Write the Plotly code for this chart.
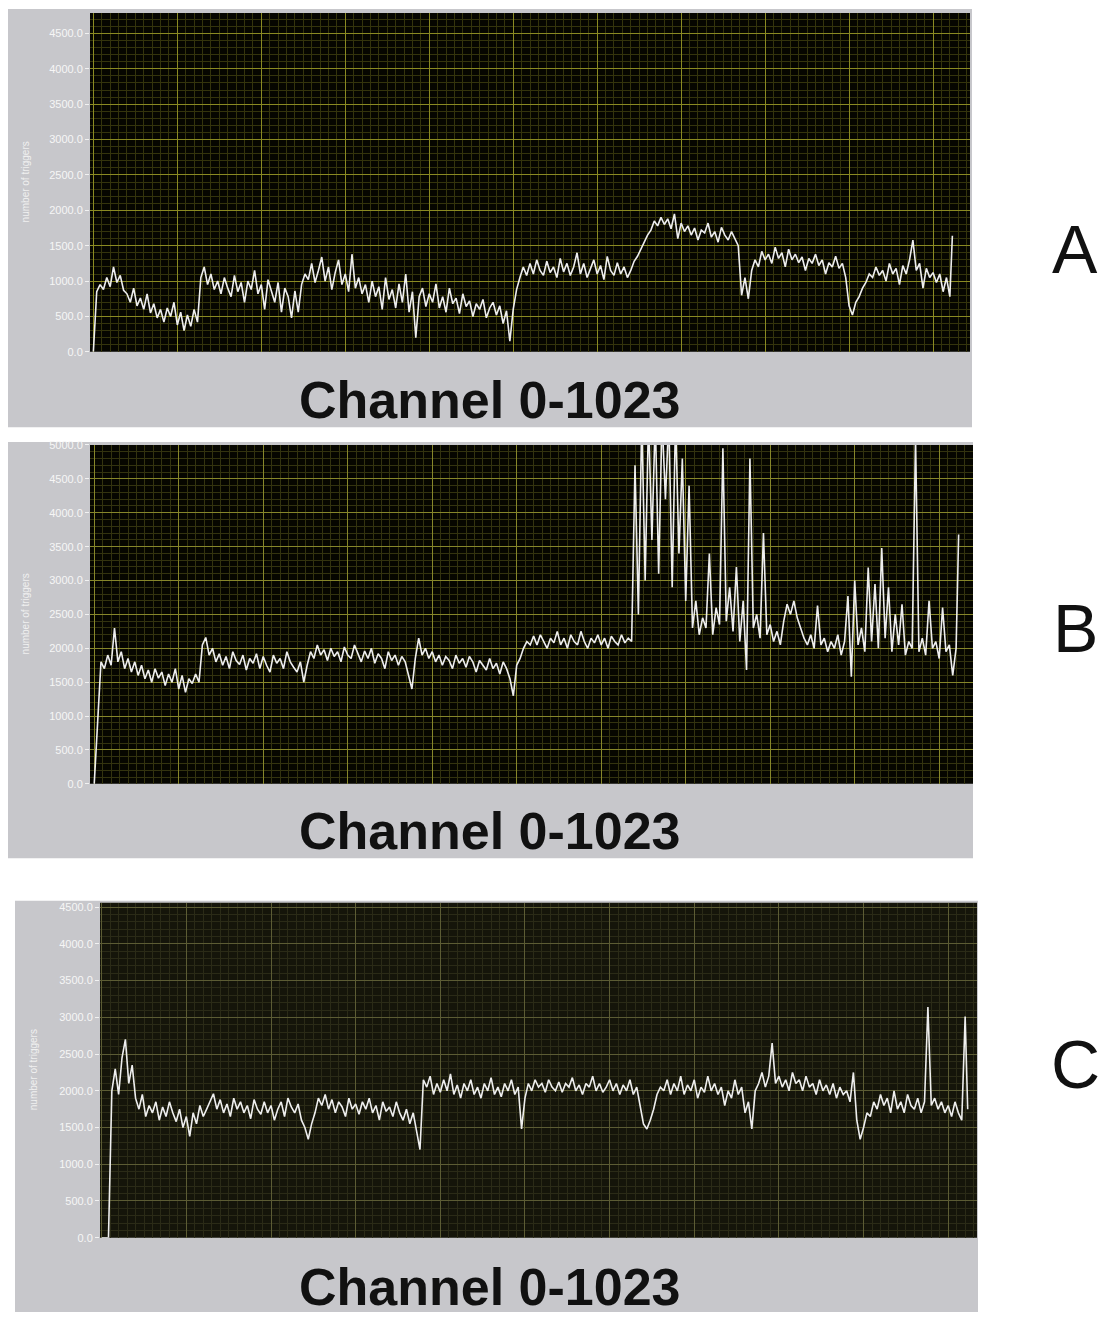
import plotly.graph_objects as go

W, H = 1119, 1321

# ---------------- data ----------------
channels = list(range(0, 1024, 4)) + [1023]

counts_a = [
    0, 850, 950, 880, 1050, 920, 1200, 980, 1080, 870, 820, 700, 900, 650, 760, 600,
    820, 550, 680, 480, 600, 420, 620, 500, 700, 380, 560, 300, 520, 360, 600, 420,
    1050, 1200, 950, 1100, 880, 1000, 820, 1050, 900, 780, 1080, 850, 980, 700, 1000, 880,
    1150, 820, 950, 600, 1020, 870, 700, 980, 560, 900, 780, 480, 860, 560, 950, 1100,
    1020, 1250, 980, 1150, 1340, 1000, 1200, 880, 1120, 1300, 950, 1100, 850, 1380, 900, 1050,
    820, 950, 700, 1000, 780, 920, 600, 1050, 740, 880, 620, 960, 700, 1100, 560, 850,
    200, 780, 900, 640, 820, 700, 960, 620, 780, 560, 900, 680, 760, 540, 820, 640,
    720, 500, 680, 600, 740, 480, 620, 700, 520, 650, 400, 580, 150, 600, 880, 1050,
    1200, 1080, 1250, 1100, 1300, 1150, 1080, 1280, 1120, 1200, 1050, 1320, 1130, 1250, 1080, 1200,
    1400, 1100, 1250, 1050, 1180, 1300, 1100, 1220, 1020, 1350, 1150, 1080, 1260, 1100, 1200, 1050,
    1150, 1280, 1350, 1450, 1550, 1650, 1720, 1850, 1780, 1900, 1800, 1880, 1740, 1950, 1600, 1820,
    1700, 1780, 1650, 1750, 1580, 1720, 1680, 1820, 1620, 1700, 1550, 1760, 1650, 1580, 1700, 1600,
    1500, 800, 1050, 750, 1150, 1300, 1200, 1420, 1300, 1380, 1250, 1480, 1320, 1400, 1200, 1450,
    1300, 1380, 1260, 1340, 1150, 1320, 1250, 1380, 1220, 1300, 1100, 1260, 1200, 1350, 1180, 1250,
    1050, 650, 520, 700, 780, 900, 980, 1100, 1050, 1200, 1080, 1150, 1000, 1250, 1100, 1180,
    950, 1220, 1100, 1300, 1580, 1150, 1250, 900, 1180, 1050, 1120, 980, 1100, 850, 1050, 780,
    1640,
]

counts_b = [
    0, 850, 1800, 1700, 1900, 1750, 2300, 1800, 1950, 1700, 1850, 1650, 1800, 1600, 1750, 1550,
    1680, 1500, 1700, 1560, 1650, 1450, 1620, 1500, 1700, 1400, 1600, 1350, 1550, 1480, 1620, 1500,
    2050, 2160, 1900, 2000, 1800, 1920, 1750, 1880, 1700, 1950, 1820, 1760, 1900, 1680, 1850, 1780,
    1920, 1700, 1880, 1750, 1650, 1900, 1780, 1850, 1700, 1950, 1800, 1720, 1650, 1800, 1500, 1750,
    1950, 1850, 2050, 1900, 1980, 1820, 2000, 1880, 1950, 1800, 2020, 1900, 1850, 2050, 1920, 1800,
    1960, 1850, 2000, 1780, 1920, 1850, 1700, 1950, 1820, 1900, 1750, 1880, 1800, 1600, 1400, 1850,
    2150, 1900, 2000, 1850, 1950, 1800, 1900, 1750, 1880, 1820, 1700, 1900, 1780, 1850, 1720, 1880,
    1800, 1650, 1820, 1750, 1680, 1850, 1700, 1780, 1620, 1800, 1700, 1550, 1300, 1750, 1850, 2000,
    2100, 2050, 2180, 2050, 2200, 2100, 2000, 2150, 2080, 2250, 2050, 2150, 2000, 2200, 2100, 2050,
    2250, 2100, 2000, 2150, 2080, 2200, 2050, 2150, 2000, 2180, 2100, 2050, 2200, 2080, 2150, 2100,
    4700, 2500, 5400, 3000, 5400, 3600, 5400, 3100, 5400, 4200, 5400, 2900, 5400, 3400, 4800, 2700,
    4400, 2300, 2700, 2200, 2450, 2300, 3400, 2200, 2600, 2350, 4950, 2400, 2900, 2250, 3200, 2100,
    2700, 1680, 4800, 2300, 2500, 2150, 3700, 2200, 2350, 2100, 2250, 2050, 2400, 2650, 2500, 2700,
    2450, 2300, 2150, 2050, 2200, 2000, 2630, 2050, 2150, 1950, 2100, 2000, 2200, 1900, 2100, 2770,
    1580, 3000, 2050, 2300, 1950, 3190, 2100, 2950, 2000, 3480, 2150, 2900, 1950, 2500, 2050, 2650,
    1900, 2100, 2000, 5100, 1950, 2150, 1900, 2700, 2000, 2100, 1850, 2600, 1950, 2050, 1600, 2000,
    3680,
]

counts_c = [
    0, 0, 0, 2000, 2300, 1950, 2450, 2700, 2100, 2350, 1900, 1750, 1950, 1650, 1800, 1700,
    1850, 1600, 1780, 1650, 1850, 1700, 1580, 1750, 1500, 1650, 1380, 1700, 1550, 1800, 1650, 1750,
    1850, 1960, 1750, 1880, 1700, 1820, 1650, 1900, 1750, 1850, 1700, 1800, 1620, 1880, 1750, 1680,
    1850, 1700, 1800, 1600, 1750, 1850, 1650, 1900, 1780, 1700, 1820, 1600, 1500, 1340, 1550, 1700,
    1900, 1800, 1950, 1750, 1880, 1700, 1850, 1780, 1650, 1900, 1750, 1820, 1680, 1850, 1750, 1900,
    1700, 1800, 1600, 1850, 1720, 1780, 1650, 1850, 1700, 1600, 1750, 1550, 1700, 1450, 1200, 2150,
    2050, 2200, 1950, 2100, 1980, 2150, 2000, 2230, 1950, 2080, 1900, 2100, 2000, 2150, 1950, 2050,
    1900, 2100, 2000, 2180, 1950, 2050, 1920, 2100, 2000, 2150, 1950, 2050, 1480, 1900, 2100, 2000,
    2150, 2050, 2100, 1980, 2150, 2050, 2000, 2120, 1980, 2100, 2050, 2180, 2000, 2080, 1950, 2100,
    2050, 2200, 2000, 2100, 1980, 2050, 2150, 2000, 2100, 1950, 2080, 2000, 2150, 1950, 2050, 1800,
    1550, 1480, 1600, 1750, 1950, 2050, 2000, 2150, 1950, 2100, 2000, 2200, 1950, 2080, 2000, 2150,
    1900, 2050, 1980, 2200, 2000, 2100, 1950, 2050, 1800, 2000, 1900, 2150, 1950, 2050, 1700, 1850,
    1480, 2000, 2100, 2250, 2050, 2200, 2650, 2100, 2200, 2050, 2150, 2000, 2250, 2100, 2150, 2000,
    2200, 2050, 2100, 1950, 2150, 2000, 2080, 1950, 2100, 1900, 2050, 1950, 2000, 1850, 2250, 1600,
    1340, 1500, 1700, 1650, 1850, 1750, 1950, 1800, 1900, 1700, 2000, 1750, 1850, 1700, 1950, 1800,
    1750, 1900, 1700, 1850, 3140, 1800, 1900, 1750, 1850, 1700, 1800, 1650, 1850, 1700, 1600, 3010,
    1750,
]

panel_letters = ["A", "B", "C"]
x_title = "Channel 0-1023"
y_title = "number of triggers"
y_ticks_a = [0, 500, 1000, 1500, 2000, 2500, 3000, 3500, 4000, 4500]
y_ticks_b = [0, 500, 1000, 1500, 2000, 2500, 3000, 3500, 4000, 4500, 5000]
y_ticks_c = [0, 500, 1000, 1500, 2000, 2500, 3000, 3500, 4000, 4500]

series = [counts_a, counts_b, counts_c]
yticks = [y_ticks_a, y_ticks_b, y_ticks_c]

# ---------------- layout geometry (pixels) ----------------
panels = [
    dict(frame=(8, 3, 972, 425), plot=(90, 7, 970, 349), xr=[-4, 1044], yr=[0, 4790],
         text_y=398, letter_y=245, bg="#060600", major="#8a8a22", minor="#34340c",
         ytitle_x=25),
    dict(frame=(8, 440, 973, 860), plot=(90, 443, 973, 785), xr=[-5, 1040], yr=[0, 5000],
         text_y=833, letter_y=628, bg="#060600", major="#86862a", minor="#33330f",
         ytitle_x=25),
    dict(frame=(15, 903, 978, 1318), plot=(100, 905, 977, 1243), xr=[-2, 1034], yr=[0, 4560],
         text_y=1293, letter_y=1068, bg="#15150a", major="#5c5c34", minor="#2b2b17",
         ytitle_x=33),
]

def fx(p):
    return p / W

def fy(p):
    return 1 - p / H

GRAY = "#c7c7cb"
fig = go.Figure()
shapes = []
annotations = []

for i, pan in enumerate(panels):
    n = "" if i == 0 else str(i + 1)
    fl, ft, fr, fb = pan["frame"]
    pl, pt, pr, pb = pan["plot"]
    shapes.append(dict(type="rect", xref="paper", yref="paper", layer="below",
                       x0=fx(fl), x1=fx(fr), y0=fy(fb), y1=fy(ft),
                       fillcolor=GRAY, line=dict(width=0)))
    shapes.append(dict(type="rect", xref="paper", yref="paper", layer="below",
                       x0=fx(pl), x1=fx(pr), y0=fy(pb), y1=fy(pt),
                       fillcolor=pan["bg"], line=dict(width=0)))

    fig.add_trace(go.Scatter(
        x=channels, y=series[i], mode="lines",
        line=dict(color="#eeeeee", width=1.6),
        xaxis="x" + n, yaxis="y" + n, showlegend=False, hoverinfo="skip",
    ))

    fig.update_layout(**{
        "xaxis" + n: dict(
            domain=[fx(pl), fx(pr)], range=pan["xr"], anchor="y" + n,
            showticklabels=False, ticks="", zeroline=False, showline=False,
            tick0=0, dtick=100, showgrid=True, gridcolor=pan["major"], gridwidth=1,
            minor=dict(dtick=10, tick0=0, showgrid=True, gridcolor=pan["minor"], gridwidth=1),
        ),
        "yaxis" + n: dict(
            domain=[fy(pb), fy(pt)], range=pan["yr"], anchor="x" + n,
            tickvals=yticks[i], tickformat=".1f",
            ticks="outside", ticklen=4, tickcolor="#f2f2f2",
            tickfont=dict(size=11, color="#f6f6f6",
                          family="Liberation Sans Narrow, Arial Narrow, Liberation Sans"),
            zeroline=False, showline=False,
            showgrid=True, gridcolor=pan["major"], gridwidth=1,
            minor=dict(dtick=100, tick0=0, showgrid=True, gridcolor=pan["minor"], gridwidth=1),
        ),
    })

    annotations.append(dict(
        xref="paper", yref="paper", x=fx(490), y=fy(pan["text_y"]),
        text="<b>" + x_title + "</b>", showarrow=False, xanchor="center", yanchor="middle",
        font=dict(size=52, color="#111111", family="Liberation Sans, Arial"),
    ))
    annotations.append(dict(
        xref="paper", yref="paper", x=fx(1075), y=fy(pan["letter_y"]),
        text=panel_letters[i], showarrow=False, xanchor="center", yanchor="middle",
        font=dict(size=68, color="#111111", family="Liberation Sans, Arial"),
    ))
    annotations.append(dict(
        xref="paper", yref="paper", x=fx(pan["ytitle_x"]), y=fy((pt + pb) / 2),
        text=y_title, showarrow=False, textangle=-90, xanchor="center", yanchor="middle",
        font=dict(size=10, color="#f0f0f0",
                  family="Liberation Sans Narrow, Arial Narrow, Liberation Sans"),
    ))

fig.update_layout(
    width=W, height=H, margin=dict(l=0, r=0, t=0, b=0),
    paper_bgcolor="white", plot_bgcolor="rgba(0,0,0,0)",
    shapes=shapes, annotations=annotations, showlegend=False,
)

fig.write_html("out.html")
